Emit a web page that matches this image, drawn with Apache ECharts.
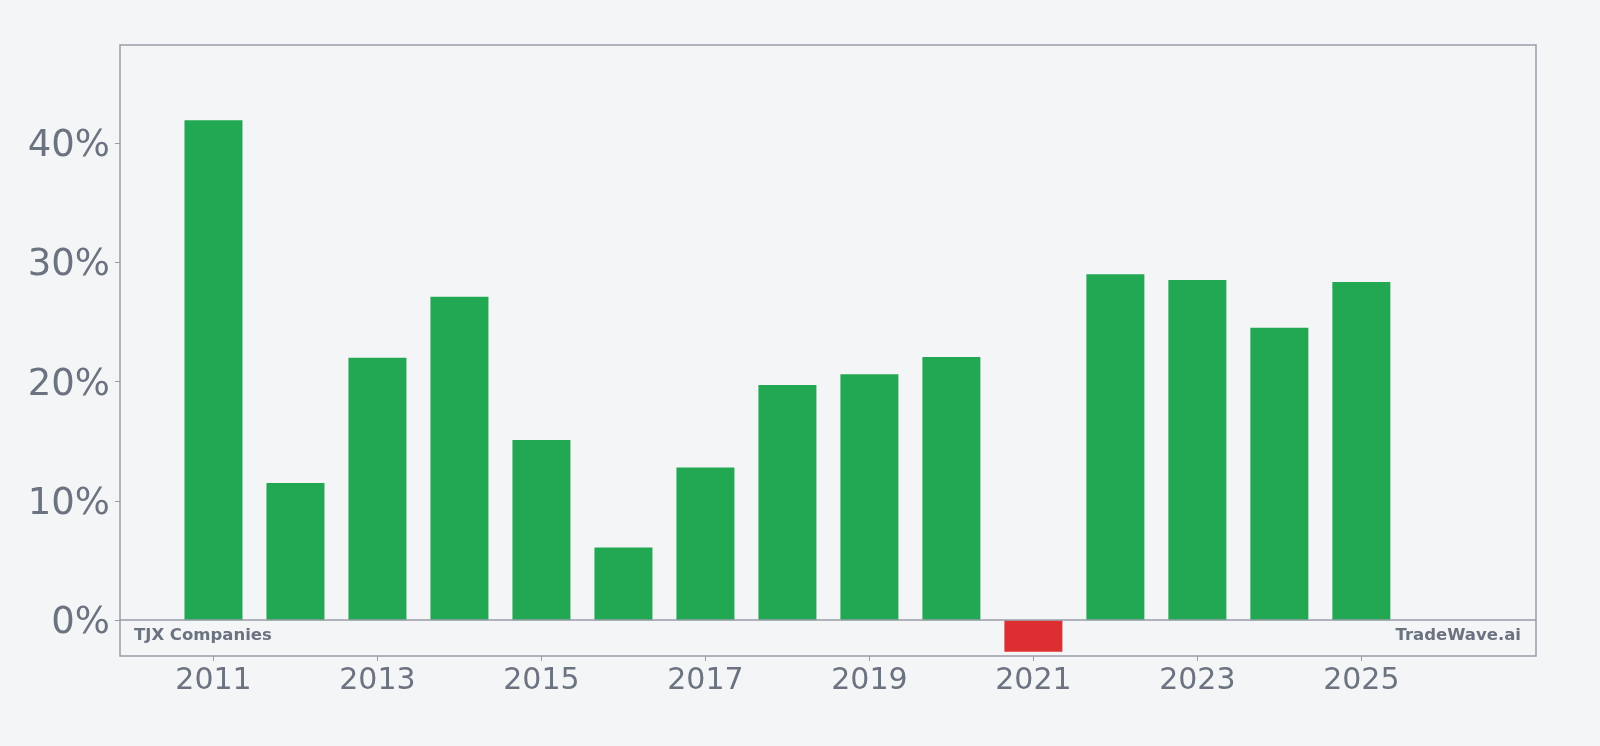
<!DOCTYPE html>
<html>
<head>
<meta charset="utf-8">
<script src="https://cdn.jsdelivr.net/npm/echarts@6/dist/echarts.min.js"></script>
<style>
  html, body { margin: 0; padding: 0; background: #f4f5f7; }
  #chart { width: 1600px; height: 746px; }
</style>
</head>
<body>
<div id="chart"></div>
<script>
// yearly values, in percent
var years = [2011, 2012, 2013, 2014, 2015, 2016, 2017, 2018, 2019, 2020, 2021, 2022, 2023, 2024, 2025];
var values = [41.9, 11.5, 22.0, 27.1, 15.1, 6.1, 12.8, 19.7, 20.6, 22.05, -2.65, 29.0, 28.5, 24.5, 28.35];
var xTicks = [2011, 2013, 2015, 2017, 2019, 2021, 2023, 2025];
var yTicks = [0, 10, 20, 30, 40];

var gray = '#9a9ca8';
var textGray = '#6b7280';

chart = echarts.init(document.getElementById('chart'));

option = {
    backgroundColor: '#f4f5f7',
    animation: false,
    grid: {
        left: 120,
        top: 45,
        right: 64,
        bottom: 90,
        show: true,
        borderColor: gray,
        borderWidth: 1.5,
        backgroundColor: 'transparent'
    },
    xAxis: {
        type: 'value',
        min: 2009.86,
        max: 2027.13,
        splitLine: { show: false },
        axisLine: { show: false, onZero: false },
        axisTick: {
            show: true,
            customValues: xTicks,
            length: 5,
            lineStyle: { color: gray, width: 1 }
        },
        axisLabel: {
            customValues: xTicks,
            formatter: function (v) { return String(v); },
            color: textGray,
            fontSize: 30,
            fontFamily: 'DejaVu Sans',
            margin: 10
        }
    },
    yAxis: {
        type: 'value',
        min: -3.0,
        max: 48.2,
        splitLine: { show: false },
        axisLine: { show: false },
        axisTick: {
            show: true,
            customValues: yTicks,
            length: 5,
            lineStyle: { color: gray, width: 1 }
        },
        axisLabel: {
            customValues: yTicks,
            formatter: function (v) { return v + '%'; },
            color: textGray,
            fontSize: 37,
            fontFamily: 'DejaVu Sans',
            margin: 10,
            verticalAlign: 'top',
            lineHeight: 7
        }
    },
    graphic: [
        {
            type: 'text',
            left: 134,
            top: 627,
            style: {
                text: 'TJX Companies',
                fill: textGray,
                font: 'bold 16.5px "DejaVu Sans"'
            }
        },
        {
            type: 'text',
            right: 79,
            top: 627,
            style: {
                text: 'TradeWave.ai',
                fill: textGray,
                font: 'bold 16.5px "DejaVu Sans"'
            }
        }
    ],
    series: [{
        type: 'bar',
        barWidth: 58,
        data: years.map(function (y, i) { return [y, values[i]]; }),
        itemStyle: {
            color: function (p) { return p.value[1] < 0 ? '#dd2e31' : '#22a852'; }
        },
        markLine: {
            silent: true,
            symbol: 'none',
            label: { show: false },
            lineStyle: { color: gray, width: 1.5, type: 'solid' },
            data: [{ yAxis: 0 }]
        }
    }]
};

chart.setOption(option);
</script>
</body>
</html>
